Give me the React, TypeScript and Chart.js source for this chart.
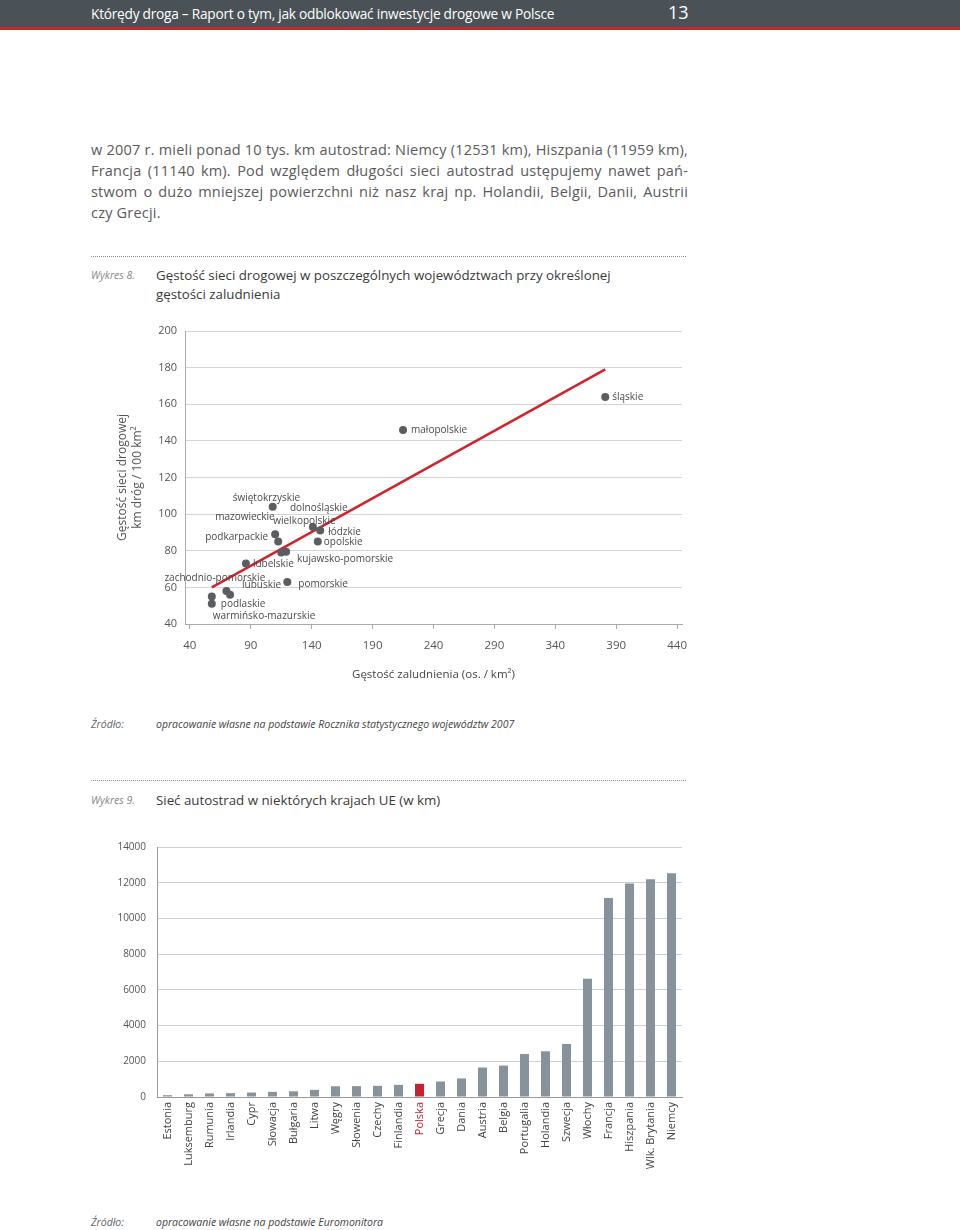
import React, { useEffect, useRef } from "react";
import { Chart, registerables } from "chart.js";

Chart.register(...registerables);

// ---------- Data: Wykres 8 (scatter) ----------
const regionNames = [
  "śląskie",
  "małopolskie",
  "świętokrzyskie",
  "dolnośląskie",
  "łódzkie",
  "opolskie",
  "mazowieckie",
  "podkarpackie",
  "wielkopolskie",
  "kujawsko-pomorskie",
  "lubelskie",
  "pomorskie",
  "zachodnio-pomorskie",
  "lubuskie",
  "podlaskie",
  "warmińsko-mazurskie",
];
const populationDensity = [381, 215, 108, 141, 147, 145, 110, 112.5, 115, 119, 86, 120, 70, 73, 58, 58];
const roadDensity = [164, 146, 104, 93, 91, 85, 89, 85, 79, 79.5, 73, 63, 58, 56, 51, 55];
const trendX = [58, 381];
const trendY = [60, 179];
const scatterXTicks = [40, 90, 140, 190, 240, 290, 340, 390, 440];
const scatterYTicks = [40, 60, 80, 100, 120, 140, 160, 180, 200];

// ---------- Data: Wykres 9 (bars) ----------
const countries = [
  "Estonia", "Luksemburg", "Rumunia", "Irlandia", "Cypr", "Słowacja", "Bułgaria", "Litwa",
  "Węgry", "Słowenia", "Czechy", "Finlandia", "Polska", "Grecja", "Dania", "Austria",
  "Belgia", "Portugalia", "Holandia", "Szwecja", "Włochy", "Francja", "Hiszpania",
  "Wlk. Brytania", "Niemcy",
];
const motorwayKm = [
  100, 150, 200, 215, 250, 290, 320, 400, 600, 610, 625, 680, 740, 870, 1040, 1650,
  1760, 2410, 2560, 2970, 6620, 11140, 11959, 12200, 12531,
];
const barYTicks = [0, 2000, 4000, 6000, 8000, 10000, 12000, 14000];

// ---------- Layout / style ----------
const FONT = '"Open Sans", "Noto Sans", sans-serif';
const GRAY_BAR = "#87929a";
const RED = "#c9222e";
const HIGHLIGHT = "Polska";

// label offsets (px) from each dot to the left/middle of its text
const LABEL_OFFSETS: Record<string, [number, number]> = {
  "śląskie": [7, 0],
  "małopolskie": [8, 0],
  "świętokrzyskie": [-40, -9],
  "dolnośląskie": [-23, -19],
  "łódzkie": [8, 2],
  "opolskie": [6, 1],
  "mazowieckie": [-60, -17],
  "podkarpackie": [-73, -4],
  "wielkopolskie": [-8, -31],
  "kujawsko-pomorskie": [11, 7],
  "lubelskie": [7, 1],
  "pomorskie": [11, 2],
  "zachodnio-pomorskie": [-62, -13],
  "lubuskie": [12, -10],
  "podlaskie": [9, 0],
  "warmińsko-mazurskie": [1, 20],
};

Chart.defaults.font.family = FONT;

const pointLabelPlugin = {
  id: "pointLabels",
  afterDatasetsDraw(chart: any) {
    const meta = chart.getDatasetMeta(0);
    const ctx = chart.ctx;
    ctx.save();
    ctx.font = `10px ${FONT}`;
    ctx.fillStyle = "#4a4a4a";
    ctx.textAlign = "left";
    ctx.textBaseline = "middle";
    meta.data.forEach((pt: any, i: number) => {
      const name = regionNames[i];
      const off = LABEL_OFFSETS[name] || [6, 0];
      ctx.fillText(name, pt.x + off[0], pt.y + off[1]);
    });
    ctx.restore();
  },
};

function ScatterChart() {
  const ref = useRef<HTMLCanvasElement | null>(null);
  useEffect(() => {
    if (!ref.current) return;
    const chart = new Chart(ref.current, {
      type: "scatter",
      data: {
        datasets: [
          {
            label: "województwa",
            data: populationDensity.map((x, i) => ({ x, y: roadDensity[i] })),
            pointRadius: 4,
            pointHoverRadius: 4,
            backgroundColor: "#5a5e62",
            borderWidth: 0,
          },
          {
            label: "trend",
            type: "line",
            data: trendX.map((x, i) => ({ x, y: trendY[i] })),
            borderColor: "#d2232c",
            borderWidth: 2.5,
            pointRadius: 0,
            showLine: true,
            fill: false,
          } as any,
        ],
      },
      options: {
        animation: false,
        responsive: false,
        events: [],
        layout: { padding: { left: 0, right: 18, top: 16, bottom: 0 } },
        plugins: { legend: { display: false }, tooltip: { enabled: false } },
        scales: {
          x: {
            type: "linear",
            min: 36,
            max: 444,
            afterBuildTicks: (s: any) => {
              s.ticks = scatterXTicks.map((v) => ({ value: v }));
            },
            afterFit: (s: any) => {
              s.height = 66;
            },
            grid: { drawOnChartArea: false, drawTicks: true, tickLength: 5, color: "#aaaaaa" },
            border: { color: "#aaaaaa" },
            ticks: { padding: 10, color: "#555", font: { size: 11.5 }, callback: (v: any) => String(v) },
            title: {
              display: true,
              text: "Gęstość zaludnienia (os. / km²)",
              color: "#444",
              font: { size: 11.5 },
              padding: { top: 0, bottom: 8 },
            },
          },
          y: {
            type: "linear",
            min: 40,
            max: 200,
            afterBuildTicks: (s: any) => {
              s.ticks = scatterYTicks.map((v) => ({ value: v }));
            },
            afterFit: (s: any) => {
              s.width = 85;
            },
            grid: { color: "#d4d4d4", drawTicks: false },
            border: { color: "#aaaaaa" },
            ticks: { padding: 8, color: "#555", font: { size: 11 }, callback: (v: any) => String(v) },
            title: {
              display: true,
              text: ["Gęstość sieci drogowej", "km dróg / 100 km²"],
              color: "#555",
              font: { size: 12, lineHeight: 1.25 },
              padding: { top: 15, bottom: 0 },
            },
          },
        },
      },
      plugins: [pointLabelPlugin],
    });
    return () => chart.destroy();
  }, []);
  return (
    <canvas
      ref={ref}
      width={600}
      height={375}
      style={{ position: "absolute", left: 100, top: 315, width: 600, height: 375 }}
    />
  );
}

function BarChart() {
  const ref = useRef<HTMLCanvasElement | null>(null);
  useEffect(() => {
    if (!ref.current) return;
    const chart = new Chart(ref.current, {
      type: "bar",
      data: {
        labels: countries,
        datasets: [
          {
            label: "km",
            data: motorwayKm,
            backgroundColor: (c: any) => (countries[c.dataIndex] === HIGHLIGHT ? RED : GRAY_BAR),
            barPercentage: 0.43,
            categoryPercentage: 1,
            borderWidth: 0,
          },
        ],
      },
      options: {
        animation: false,
        responsive: false,
        events: [],
        layout: { padding: { left: 0, right: 18, top: 15, bottom: 0 } },
        plugins: { legend: { display: false }, tooltip: { enabled: false } },
        scales: {
          x: {
            grid: { display: false, drawTicks: false },
            border: { color: "#9a9a9a" },
            afterFit: (s: any) => {
              s.height = 98;
            },
            ticks: {
              autoSkip: false,
              maxRotation: 90,
              minRotation: 90,
              padding: 5,
              font: { size: 11 },
              color: (c: any) => (countries[c.index] === HIGHLIGHT ? RED : "#444"),
            },
          },
          y: {
            min: 0,
            max: 14000,
            afterBuildTicks: (s: any) => {
              s.ticks = barYTicks.map((v) => ({ value: v }));
            },
            afterFit: (s: any) => {
              s.width = 67;
            },
            grid: { color: "#d0d0d0", drawTicks: false },
            border: { color: "#9a9a9a" },
            ticks: { padding: 11, color: "#555", font: { size: 10 }, callback: (v: any) => String(v) },
          },
        },
      },
    });
    return () => chart.destroy();
  }, []);
  return (
    <canvas
      ref={ref}
      width={610}
      height={365}
      style={{ position: "absolute", left: 90, top: 830, width: 610, height: 365 }}
    />
  );
}

function T(props: {
  x: number;
  y: number;
  size: number;
  color?: string;
  italic?: boolean;
  ls?: number;
  children: React.ReactNode;
}) {
  const h = Math.round(props.size * 1.4);
  return (
    <div
      style={{
        position: "absolute",
        left: props.x,
        top: props.y - h / 2,
        height: h,
        lineHeight: `${h}px`,
        fontSize: props.size,
        fontFamily: FONT,
        fontStyle: props.italic ? "italic" : "normal",
        color: props.color || "#333",
        letterSpacing: props.ls ? `${props.ls}px` : undefined,
        whiteSpace: "nowrap",
      }}
    >
      {props.children}
    </div>
  );
}

function JLine(props: { y: number; last?: boolean; children: React.ReactNode }) {
  const size = 14.5;
  const h = 20;
  return (
    <div
      style={{
        position: "absolute",
        left: 91,
        width: 597,
        top: props.y - h / 2,
        height: h,
        lineHeight: `${h}px`,
        fontSize: size,
        fontFamily: FONT,
        color: "#5a5a5a",
        letterSpacing: "0.2px",
        whiteSpace: "nowrap",
        textAlign: props.last ? "left" : "justify",
        textAlignLast: props.last ? "left" : "justify",
      } as React.CSSProperties}
    >
      {props.children}
    </div>
  );
}

export default function App() {
  return (
    <div
      style={{
        position: "absolute",
        left: 0,
        top: 0,
        width: 960,
        height: 1230,
        background: "#ffffff",
        overflow: "hidden",
      }}
    >
      {/* header */}
      <div style={{ position: "absolute", left: 0, top: 0, width: 960, height: 27, background: "#4a5258" }} />
      <div style={{ position: "absolute", left: 0, top: 27, width: 960, height: 3, background: "#c4262e" }} />
      <T x={91} y={13} size={13.7} color="#ffffff" ls={-0.25}>
        Którędy droga – Raport o tym, jak odblokować inwestycje drogowe w Polsce
      </T>
      <T x={668} y={12} size={18} color="#ffffff">
        13
      </T>

      {/* body text */}
      <JLine y={150}>w 2007 r. mieli ponad 10 tys. km autostrad: Niemcy (12531 km), Hiszpania (11959 km),</JLine>
      <JLine y={171}>Francja (11140 km). Pod względem długości sieci autostrad ustępujemy nawet pań-</JLine>
      <JLine y={192}>stwom o dużo mniejszej powierzchni niż nasz kraj np. Holandii, Belgii, Danii, Austrii</JLine>
      <JLine y={213} last>
        czy Grecji.
      </JLine>

      {/* Wykres 8 */}
      <div style={{ position: "absolute", left: 91, top: 256, width: 595, borderTop: "1px dotted #8a8a8a" }} />
      <T x={91} y={275} size={10.5} italic color="#888">
        Wykres 8.
      </T>
      <T x={156} y={275} size={13.3} color="#3a3a3a">
        Gęstość sieci drogowej w poszczególnych województwach przy określonej
      </T>
      <T x={156} y={294} size={13.3} color="#3a3a3a">
        gęstości zaludnienia
      </T>
      <ScatterChart />
      <T x={91} y={724} size={10.5} italic color="#666">
        Źródło:
      </T>
      <T x={156} y={724} size={10.5} italic color="#444">
        opracowanie własne na podstawie Rocznika statystycznego województw 2007
      </T>

      {/* Wykres 9 */}
      <div style={{ position: "absolute", left: 91, top: 780, width: 595, borderTop: "1px dotted #8a8a8a" }} />
      <T x={91} y={800} size={10.5} italic color="#888">
        Wykres 9.
      </T>
      <T x={156} y={800} size={13.3} color="#3a3a3a">
        Sieć autostrad w niektórych krajach UE (w km)
      </T>
      <BarChart />
      <T x={91} y={1222} size={10.5} italic color="#666">
        Źródło:
      </T>
      <T x={156} y={1222} size={10.5} italic color="#444">
        opracowanie własne na podstawie Euromonitora
      </T>
    </div>
  );
}
